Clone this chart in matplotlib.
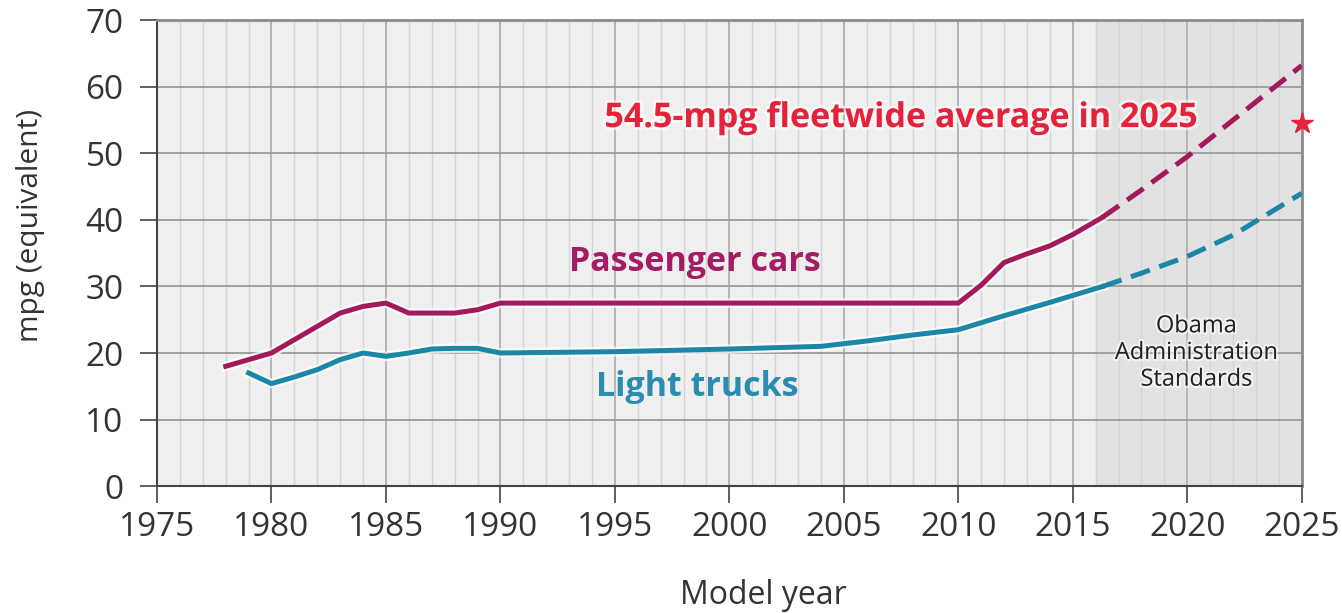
import numpy as np
import matplotlib.pyplot as plt
import matplotlib.patheffects as pe

plt.rcParams['font.family'] = ['Open Sans', 'DejaVu Sans']

# 乘用车（实测部分）
car_years = [1978, 1979, 1980, 1981, 1982, 1983, 1984, 1985, 1986, 1987, 1988, 1989,
             1990, 1995, 2000, 2005, 2010, 2011, 2012, 2013, 2014, 2015, 2016.3]
car_mpg = [18.0, 19.0, 20.0, 22.0, 24.0, 26.0, 27.0, 27.5, 26.0, 26.0, 26.0, 26.5,
           27.5, 27.5, 27.5, 27.5, 27.5, 30.2, 33.6, 34.9, 36.1, 37.8, 40.4]
# 乘用车（标准，虚线）
car_std_years = [2016.3, 2018, 2020, 2022, 2025]
car_std_mpg = [40.4, 44.5, 49.5, 55.0, 63.2]

# 轻型卡车
truck_years = [1979, 1980, 1981, 1982, 1983, 1984, 1985, 1986, 1987, 1988, 1989,
               1990, 1995, 2000, 2004, 2006, 2008, 2010, 2012, 2014, 2016.3]
truck_mpg = [17.0, 15.4, 16.4, 17.5, 19.0, 20.0, 19.5, 20.0, 20.6, 20.7, 20.7,
             20.0, 20.2, 20.6, 21.0, 21.8, 22.7, 23.5, 25.6, 27.6, 30.0]
truck_std_years = [2016.3, 2018, 2020, 2022, 2025]
truck_std_mpg = [30.0, 32.0, 34.5, 37.7, 44.0]

target_year = 2025
target_mpg = 54.5

car_color = '#a3195b'
truck_color = '#1b86a6'
red = '#e6223a'

fig = plt.figure(figsize=(13.42, 6.13), dpi=100)
ax = fig.add_axes([0.117, 0.207, 0.853, 0.760])

ax.set_facecolor('#efefef')
ax.axvspan(2016, 2025, color='#e2e2e2', zorder=0)

# 网格
for yr in range(1976, 2025):
    c = '#b5b5b5' if yr % 5 == 0 else '#d4d4d4'
    lw = 1.4 if yr % 5 == 0 else 1.0
    ax.axvline(yr, color=c, lw=lw, zorder=1)
for v in range(10, 70, 10):
    ax.axhline(v, color='#9a9a9a', lw=1.3, zorder=1)

halo = [pe.Stroke(linewidth=7, foreground='white', alpha=0.7), pe.Normal()]
ax.plot(car_years, car_mpg, color=car_color, lw=3.6, zorder=3, path_effects=halo)
ax.plot(car_std_years, car_std_mpg, color=car_color, lw=3.6, ls=(0, (4, 2)), zorder=3)
ax.plot(truck_years, truck_mpg, color=truck_color, lw=3.6, zorder=3, path_effects=halo)
ax.plot(truck_std_years, truck_std_mpg, color=truck_color, lw=3.6, ls=(0, (4, 2)), zorder=3)
ax.plot([target_year], [target_mpg], marker='*', color=red, markersize=16,
        clip_on=False, zorder=5)

ax.text(2007.5, 55.3, '54.5-mpg fleetwide average in 2025', color=red,
        fontsize=24.5, fontweight='bold', ha='center', va='center', zorder=4,
        path_effects=[pe.withStroke(linewidth=4, foreground='white', alpha=0.6)])
ax.text(1998.5, 33.6, 'Passenger cars', color='#a51c64', fontsize=24.5,
        fontweight='bold', ha='center', va='center', zorder=4)
ax.text(1998.6, 14.9, 'Light trucks', color='#2a8cb0', fontsize=24.5,
        fontweight='bold', ha='center', va='center', zorder=4)
ax.text(2020.4, 20, 'Obama\nAdministration\nStandards', color='#222222',
        fontsize=17, ha='center', va='center', zorder=4, linespacing=1.15,
        path_effects=[pe.withStroke(linewidth=3, foreground='white', alpha=0.6)])

ax.set_xlim(1975, 2025)
ax.set_ylim(0, 70)
ax.set_xticks(range(1975, 2026, 5))
ax.set_yticks(range(0, 71, 10))
ax.tick_params(axis='both', labelsize=24, colors='#444444', length=12, width=1.2,
               labelcolor='#333333')
ax.tick_params(axis='x', pad=6)
ax.tick_params(axis='y', pad=12)

for s in ['left', 'bottom']:
    ax.spines[s].set_color('#444444')
    ax.spines[s].set_linewidth(1.5)
for s in ['top', 'right']:
    ax.spines[s].set_color('#8a8a8a')
    ax.spines[s].set_linewidth(2)

ax.set_xlabel('Model year', fontsize=23, color='#333333')
ax.set_ylabel('mpg (equivalent)', fontsize=21.5, color='#333333')
ax.xaxis.set_label_coords(0.53, -0.2)
ax.yaxis.set_label_coords(-0.098, 0.56)

fig.savefig('out.png', dpi=100)
